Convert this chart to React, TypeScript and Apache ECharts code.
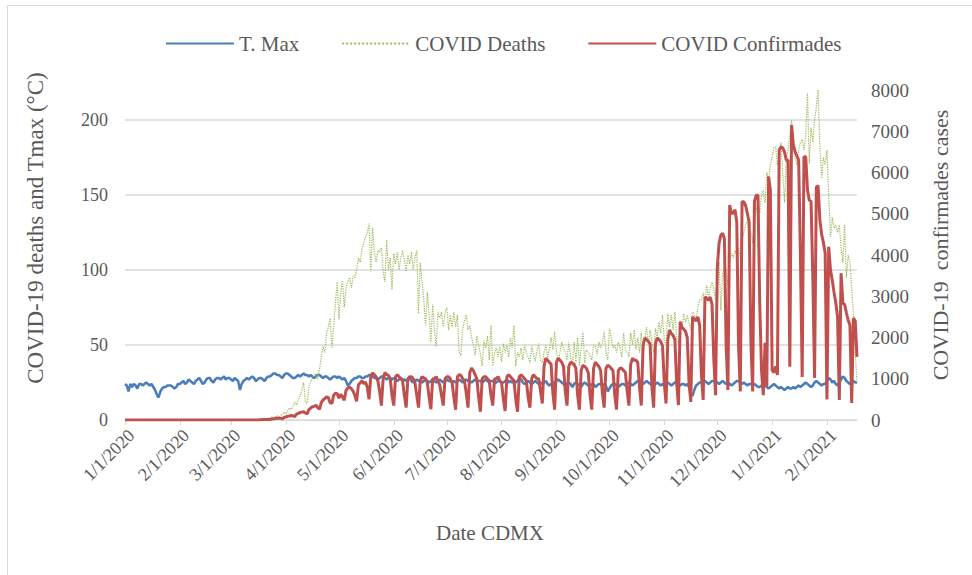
import React, { useEffect, useRef } from "react";
import * as echarts from "echarts";

// Daily values, 1/1/2020 .. 2/18/2021, written week by week (Sun..Sat rows; first row Wed..Sat)
const tmax: number[] = [
  24, 23, 19, 24,
  22, 24, 23, 21, 24, 24, 23,
  24, 25, 24, 23, 24, 22, 20,
  17, 15, 19, 21, 22, 22, 23,
  23, 23, 22, 21, 22, 24, 24,
  25, 26, 24, 25, 27, 26, 25,
  24, 26, 27, 28, 26, 24, 25,
  27, 28, 28, 26, 25, 27, 28,
  28, 27, 28, 29, 27, 28, 28,
  27, 26, 28, 27, 26, 20, 24,
  26, 27, 28, 27, 28, 29, 28,
  26, 27, 28, 28, 27, 26, 28,
  29, 29, 30, 31, 31, 30, 30,
  29, 28, 30, 31, 31, 30, 29,
  28, 28, 29, 30, 29, 30, 31,
  30, 30, 29, 30, 29, 28, 29,
  30, 30, 29, 28, 29, 29, 28,
  27, 28, 29, 29, 28, 29, 28,
  27, 28, 26, 23, 24, 26, 27,
  28, 28, 29, 29, 28, 28, 29,
  29, 30, 30, 29, 28, 28, 27,
  28, 29, 29, 28, 27, 28, 28,
  27, 28, 27, 26, 27, 28, 27,
  27, 26, 27, 28, 26, 25, 26,
  27, 26, 27, 25, 26, 27, 26,
  25, 26, 27, 26, 25, 26, 27,
  26, 25, 26, 27, 26, 26, 25,
  26, 25, 26, 27, 26, 25, 26,
  27, 26, 26, 25, 26, 27, 26,
  26, 26, 25, 26, 27, 26, 25,
  26, 26, 25, 25, 26, 26, 25,
  25, 26, 27, 25, 26, 25, 26,
  25, 26, 28, 27, 25, 24, 25,
  26, 25, 24, 25, 26, 25, 24,
  25, 24, 25, 26, 24, 23, 24,
  25, 24, 26, 27, 26, 25, 24,
  23, 24, 25, 24, 22, 24, 25,
  24, 23, 22, 24, 25, 24, 23,
  24, 23, 24, 22, 23, 24, 24,
  23, 24, 23, 19, 21, 23, 24,
  24, 23, 22, 23, 24, 24, 23,
  24, 25, 24, 23, 24, 25, 26,
  26, 25, 24, 25, 26, 25, 24,
  24, 23, 24, 25, 24, 23, 24,
  23, 24, 25, 24, 23, 24, 25,
  25, 24, 23, 24, 24, 23, 24,
  22, 18, 16, 20, 23, 24, 25,
  25, 26, 26, 25, 24, 25, 26,
  26, 26, 25, 24, 25, 26, 25,
  24, 25, 24, 23, 24, 25, 26,
  26, 25, 24, 25, 24, 23, 24,
  24, 23, 24, 23, 22, 22, 23,
  22, 23, 22, 21, 22, 23, 24,
  23, 22, 21, 22, 21, 20, 21,
  22, 21, 21, 22, 21, 22, 23,
  22, 23, 24, 25, 24, 23, 22,
  23, 25, 26, 25, 24, 23, 24,
  24, 26, 28, 27, 25, 26, 24,
  23, 25, 27, 29, 28, 26, 25,
  24, 25, 26, 25, 25,
];

const deaths: number[] = [
  0, 0, 0, 0,
  0, 0, 0, 0, 0, 0, 0,
  0, 0, 0, 0, 0, 0, 0,
  0, 0, 0, 0, 0, 0, 0,
  0, 0, 0, 0, 0, 0, 0,
  0, 0, 0, 0, 0, 0, 0,
  0, 0, 0, 0, 0, 0, 0,
  0, 0, 0, 0, 0, 0, 0,
  0, 0, 0, 0, 0, 0, 0,
  0, 0, 0, 0, 0, 0, 0,
  0, 0, 0, 0, 0, 0, 0,
  0, 0, 0, 0, 0, 1, 0,
  1, 1, 2, 1, 2, 3, 2,
  3, 4, 5, 4, 6, 8, 7,
  9, 12, 10, 14, 16, 20, 25,
  12, 11, 22, 25, 28, 30, 31,
  27, 34, 42, 49, 45, 58, 62,
  68, 48, 62, 78, 92, 67, 85,
  93, 75, 88, 92, 95, 88, 96,
  95, 100, 108, 105, 114, 118, 122,
  125, 131, 99, 128, 112, 105, 113,
  112, 115, 99, 92, 120, 100, 108,
  87, 111, 104, 112, 100, 108, 113,
  107, 99, 110, 104, 112, 100, 108,
  113, 71, 105, 92, 80, 63, 85,
  70, 52, 77, 60, 49, 72, 68,
  72, 62, 71, 75, 60, 70, 62,
  72, 62, 70, 45, 43, 61, 66,
  70, 60, 63, 55, 50, 43, 56,
  50, 44, 36, 53, 48, 56, 40,
  63, 36, 45, 48, 42, 49, 39,
  51, 45, 50, 42, 55, 48, 63,
  36, 45, 42, 48, 40, 50, 45,
  42, 38, 49, 44, 39, 46, 51,
  40, 38, 45, 50, 42, 47, 55,
  47, 59, 46, 39, 45, 52, 48,
  45, 40, 52, 42, 36, 52, 38,
  55, 36, 48, 59, 38, 47, 45,
  43, 40, 50, 49, 44, 52, 48,
  52, 59, 45, 40, 61, 55, 48,
  50, 45, 52, 48, 42, 58, 47,
  45, 42, 58, 50, 60, 47, 55,
  45, 58, 42, 55, 62, 50, 60,
  52, 45, 61, 55, 65, 58, 70,
  53, 50, 71, 62, 70, 60, 72,
  55, 50, 62, 60, 71, 65, 70,
  65, 60, 72, 70, 68, 75, 80,
  80, 85, 78, 90, 82, 88, 92,
  88, 80, 95, 105, 73, 98, 100,
  100, 90, 105, 111, 108, 113, 110,
  115, 108, 120, 125, 130, 133, 128,
  125, 118, 135, 140, 145, 138, 150,
  153, 145, 165, 160, 170, 175, 182,
  182, 170, 175, 185, 165, 145, 175,
  180, 190, 200, 185, 175, 170, 180,
  185, 187, 180, 190, 218, 171, 195,
  185, 200, 209, 220, 182, 161, 175,
  170, 180, 150, 122, 135, 128, 130,
  125, 130, 115, 105, 130, 95, 110,
  105, 87, 71, 45, 25,
];

const confirmed: number[] = [
  0, 0, 0, 0,
  0, 0, 0, 0, 0, 0, 0,
  0, 0, 0, 0, 0, 0, 0,
  0, 0, 0, 0, 0, 0, 0,
  0, 0, 0, 0, 0, 0, 0,
  0, 0, 0, 0, 0, 0, 0,
  0, 0, 0, 0, 0, 0, 0,
  0, 0, 0, 0, 0, 0, 0,
  0, 0, 0, 0, 0, 0, 0,
  0, 0, 0, 0, 0, 0, 0,
  0, 0, 0, 0, 0, 0, 0,
  2, 1, 5, 8, 10, 12, 15,
  18, 14, 25, 30, 35, 40, 45,
  40, 30, 60, 75, 90, 95, 110,
  100, 80, 140, 160, 180, 190, 200,
  170, 150, 250, 290, 320, 330, 360,
  300, 260, 420, 485, 520, 560, 540,
  420, 400, 600, 650, 640, 530, 620,
  560, 480, 720, 775, 800, 760, 700,
  600, 450, 850, 900, 950, 880, 920,
  800, 500, 1050, 1140, 1100, 1050, 950,
  700, 350, 1000, 1150, 1100, 1080, 1000,
  600, 350, 1050, 1100, 1050, 1000, 950,
  600, 300, 1000, 1050, 1050, 1000, 900,
  600, 300, 950, 1050, 1020, 1000, 900,
  550, 260, 1000, 1000, 1050, 950, 850,
  600, 350, 1000, 1050, 1050, 1000, 900,
  550, 250, 1050, 1100, 1080, 1000, 950,
  650, 300, 1150, 1260, 1200, 1100, 1000,
  550, 200, 1000, 1050, 1050, 1000, 950,
  600, 350, 1000, 1000, 1050, 950, 900,
  500, 220, 1050, 1100, 1050, 1000, 950,
  500, 200, 1050, 1100, 1050, 1000, 950,
  550, 300, 1000, 1100, 1050, 1000, 1000,
  700, 400, 1300, 1500, 1450, 1400, 1350,
  650, 250, 1400, 1500, 1450, 1400, 1300,
  700, 350, 1300, 1400, 1380, 1350, 1250,
  600, 250, 1200, 1330, 1300, 1250, 1150,
  600, 250, 1250, 1400, 1350, 1300, 1200,
  650, 300, 1250, 1330, 1300, 1250, 1200,
  600, 250, 1200, 1260, 1250, 1200, 1150,
  700, 350, 1350, 1500, 1450, 1450, 1400,
  800, 350, 1800, 1990, 1950, 1900, 1850,
  800, 300, 1850, 1990, 1950, 1900, 1800,
  900, 400, 1950, 2180, 2100, 2050, 1950,
  900, 360, 2380, 2250, 2200, 2150, 2000,
  900, 440, 2500, 2450, 2400, 2500, 2300,
  1100, 485, 2980, 2950, 2900, 2980, 2800,
  1500, 600, 3710, 4290, 4480, 4530, 4400,
  1800, 730, 5210, 5010, 5010, 5100, 4800,
  1800, 690, 5290, 5290, 5200, 5010, 4800,
  1900, 690, 5300, 5450, 5450, 2800, 1200,
  600, 1870, 810, 5900, 5580, 1210, 1150,
  1300, 1090, 6550, 6620, 6600, 6500, 6300,
  6300, 1290, 7150, 6670, 6500, 6400, 6300,
  4000, 1040, 6380, 6380, 5580, 5330, 5300,
  3500, 1020, 5650, 5680, 4850, 4500, 4300,
  4050, 500, 4200, 3640, 3390, 3100, 2840,
  2500, 485, 3560, 2830, 2800, 2600, 2420,
  2300, 410, 2470, 2400, 1530,
];

const leftTicks = { min: 0, max: 220, interval: 50 };
const rightTicks = { min: 0, max: 8000, interval: 1000 };

const START = Date.UTC(2020, 0, 1);
const dates: string[] = tmax.map((_, i) => {
  const d = new Date(START + i * 86400000);
  return `${d.getUTCMonth() + 1}/${d.getUTCDate()}/${d.getUTCFullYear()}`;
});

const FONT = "'Liberation Serif', 'Times New Roman', serif";
const TXT = "#595959";
const GRID = "#d9d9d9";

const isMonthStart = (_i: number, v: string) => v.split("/")[1] === "1";

export default function App() {
  const ref = useRef<HTMLDivElement>(null);
  useEffect(() => {
    if (!ref.current) return;
    const chart = echarts.init(ref.current, undefined, { renderer: "svg" });
    chart.setOption({
      animation: false,
      backgroundColor: "#ffffff",
      textStyle: { fontFamily: FONT },
      legend: {
        left: 160,
        top: 28,
        itemWidth: 68,
        itemHeight: 14,
        itemGap: 42,
        itemStyle: { opacity: 0 },
        textStyle: { fontFamily: FONT, fontSize: 21, color: TXT },
        data: ["T. Max", "COVID Deaths", "COVID Confirmades"],
      },
      grid: { left: 125, right: 115, top: 90, bottom: 155 },
      xAxis: {
        type: "category",
        data: dates,
        boundaryGap: false,
        axisLine: { lineStyle: { color: GRID, width: 1 } },
        axisTick: { show: true, interval: isMonthStart, length: 5, lineStyle: { color: GRID } },
        axisLabel: {
          interval: isMonthStart,
          rotate: 45,
          margin: 6,
          verticalAlign: "top",
          fontFamily: FONT,
          fontSize: 18,
          color: TXT,
        },
        splitLine: { show: false },
      },
      yAxis: [
        {
          type: "value",
          ...leftTicks,
          axisLine: { show: false },
          axisTick: { show: false },
          axisLabel: {
            margin: 17,
            fontFamily: FONT,
            fontSize: 18,
            color: TXT,
            formatter: (v: number) => (v === leftTicks.max ? "" : String(v)),
          },
          splitLine: { show: true, showMaxLine: false, lineStyle: { color: GRID, width: 1.5 } },
        },
        {
          type: "value",
          ...rightTicks,
          position: "right",
          axisLine: { show: false },
          axisTick: { show: false },
          axisLabel: {
            margin: 14,
            fontFamily: FONT,
            fontSize: 19,
            color: TXT,
            formatter: (v: number) => String(v),
          },
          splitLine: { show: false },
        },
      ],
      graphic: [
        {
          type: "rect",
          shape: { x: 7.5, y: 5.5, width: 980, height: 600 },
          style: { fill: "none", stroke: GRID, lineWidth: 1 },
          silent: true,
        },
        {
          type: "text",
          x: 35,
          y: 228,
          rotation: Math.PI / 2,
          style: {
            text: "COVID-19 deaths and Tmax (°C)",
            font: `23px ${FONT}`,
            fill: TXT,
            textAlign: "center",
            textVerticalAlign: "middle",
          },
        },
        {
          type: "text",
          x: 940,
          y: 245,
          rotation: Math.PI / 2,
          style: {
            text: "COVID-19  confirmades cases",
            font: `22px ${FONT}`,
            fill: TXT,
            textAlign: "center",
            textVerticalAlign: "middle",
          },
        },
        {
          type: "text",
          x: 490,
          y: 533,
          style: {
            text: "Date CDMX",
            font: `21px ${FONT}`,
            fill: TXT,
            textAlign: "center",
            textVerticalAlign: "middle",
          },
        },
      ],
      series: [
        {
          name: "T. Max",
          type: "line",
          yAxisIndex: 0,
          data: tmax,
          symbol: "none",
          lineStyle: { color: "#4a7ebb", width: 2.5 },
          itemStyle: { color: "#4a7ebb" },
        },
        {
          name: "COVID Deaths",
          type: "line",
          yAxisIndex: 0,
          data: deaths,
          symbol: "none",
          lineStyle: { color: "#9bbb59", width: 1.2, type: "dotted" },
          itemStyle: { color: "#9bbb59" },
        },
        {
          name: "COVID Confirmades",
          type: "line",
          yAxisIndex: 1,
          data: confirmed,
          symbol: "none",
          lineStyle: { color: "#c0504d", width: 3 },
          itemStyle: { color: "#c0504d" },
        },
      ],
    });
    return () => chart.dispose();
  }, []);
  return (
    <div
      ref={ref}
      style={{ position: "absolute", left: 0, top: 0, width: 972, height: 575 }}
    />
  );
}
